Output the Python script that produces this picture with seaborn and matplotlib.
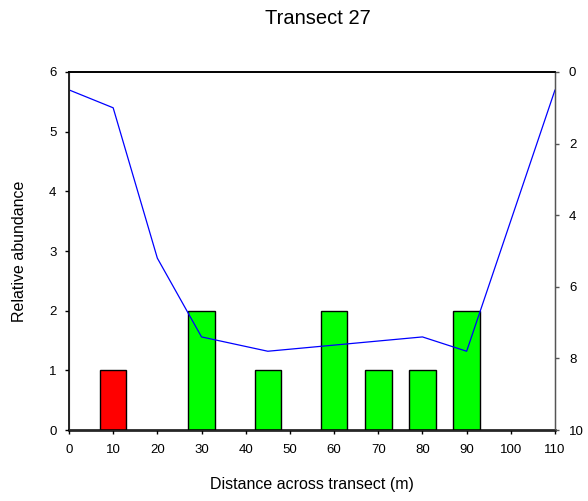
import matplotlib
matplotlib.use("Agg")
import matplotlib.pyplot as plt
import seaborn as sns
import pandas as pd

# Data
bar_x = [10, 30, 45, 60, 70, 80, 90]
bar_values = [1, 2, 1, 2, 1, 1, 2]
bar_group = ["red", "green", "green", "green", "green", "green", "green"]
line_x = [0, 10, 20, 30, 45, 80, 90, 110]
line_depth = [0.5, 1.0, 5.2, 7.4, 7.8, 7.4, 7.8, 0.5]
x_ticks = [0, 10, 20, 30, 40, 50, 60, 70, 80, 90, 100, 110]
left_ticks = [0, 1, 2, 3, 4, 5, 6]
right_ticks = [0, 2, 4, 6, 8, 10]

sns.set_style("ticks")
plt.rcParams['font.family'] = ['Liberation Sans', 'DejaVu Sans']
plt.rcParams['text.color'] = 'black'
plt.rcParams['axes.labelcolor'] = 'black'

fig = plt.figure(figsize=(5.88, 5.01), dpi=100)
ax = fig.add_axes([0.1173, 0.1417, 0.8266, 0.7146])

df = pd.DataFrame({"x": bar_x, "v": bar_values, "g": bar_group})
sns.barplot(data=df, x="x", y="v", hue="g", native_scale=True, width=0.6,
            palette={"red": "#ff0000", "green": "#00ff00"}, dodge=False,
            edgecolor="black", linewidth=1.0, legend=False, ax=ax, saturation=1)

ax.set_xlim(0, 110)
ax.set_ylim(0, 6)
ax.set_xticks(x_ticks)
ax.set_yticks(left_ticks)
ax.tick_params(axis="x", labelsize=9.5, direction="out", length=3, width=1,
               colors="black", pad=7)
ax.tick_params(axis="y", labelsize=9.5, direction="out", length=3, width=1,
               colors="black", pad=6)
ax.set_xlabel("Distance across transect (m)", fontsize=11.5, labelpad=15, color="black")
ax.set_ylabel("Relative abundance", fontsize=11.5, labelpad=16, color="black")
for s in ["left", "bottom", "top"]:
    ax.spines[s].set_color("black")
    ax.spines[s].set_linewidth(1.2)
ax.spines["bottom"].set_linewidth(1.8)
ax.spines["top"].set_visible(True)

ax2 = ax.twinx()
ldf = pd.DataFrame({"x": line_x, "d": line_depth})
sns.lineplot(data=ldf, x="x", y="d", color="#0000ff", linewidth=0.9, ax=ax2, sort=False)
ax2.set_ylim(10, 0)
ax2.set_yticks(right_ticks)
ax2.set_ylabel("")
ax2.tick_params(axis="y", labelsize=9.5, direction="out", length=3, width=1,
                color="#555555", labelcolor="black", pad=7)
ax2.spines["right"].set_visible(True)
ax2.spines["right"].set_color("#555555")
ax2.spines["right"].set_linewidth(1.0)
ax2.spines["top"].set_visible(True)
ax2.spines["top"].set_color("black")
ax2.spines["top"].set_linewidth(1.2)

fig.text(318 / 588, 1 - 18 / 501, "Transect 27", fontsize=14.5, ha="center",
         va="center", color="black")

fig.savefig("out.png", dpi=100)
